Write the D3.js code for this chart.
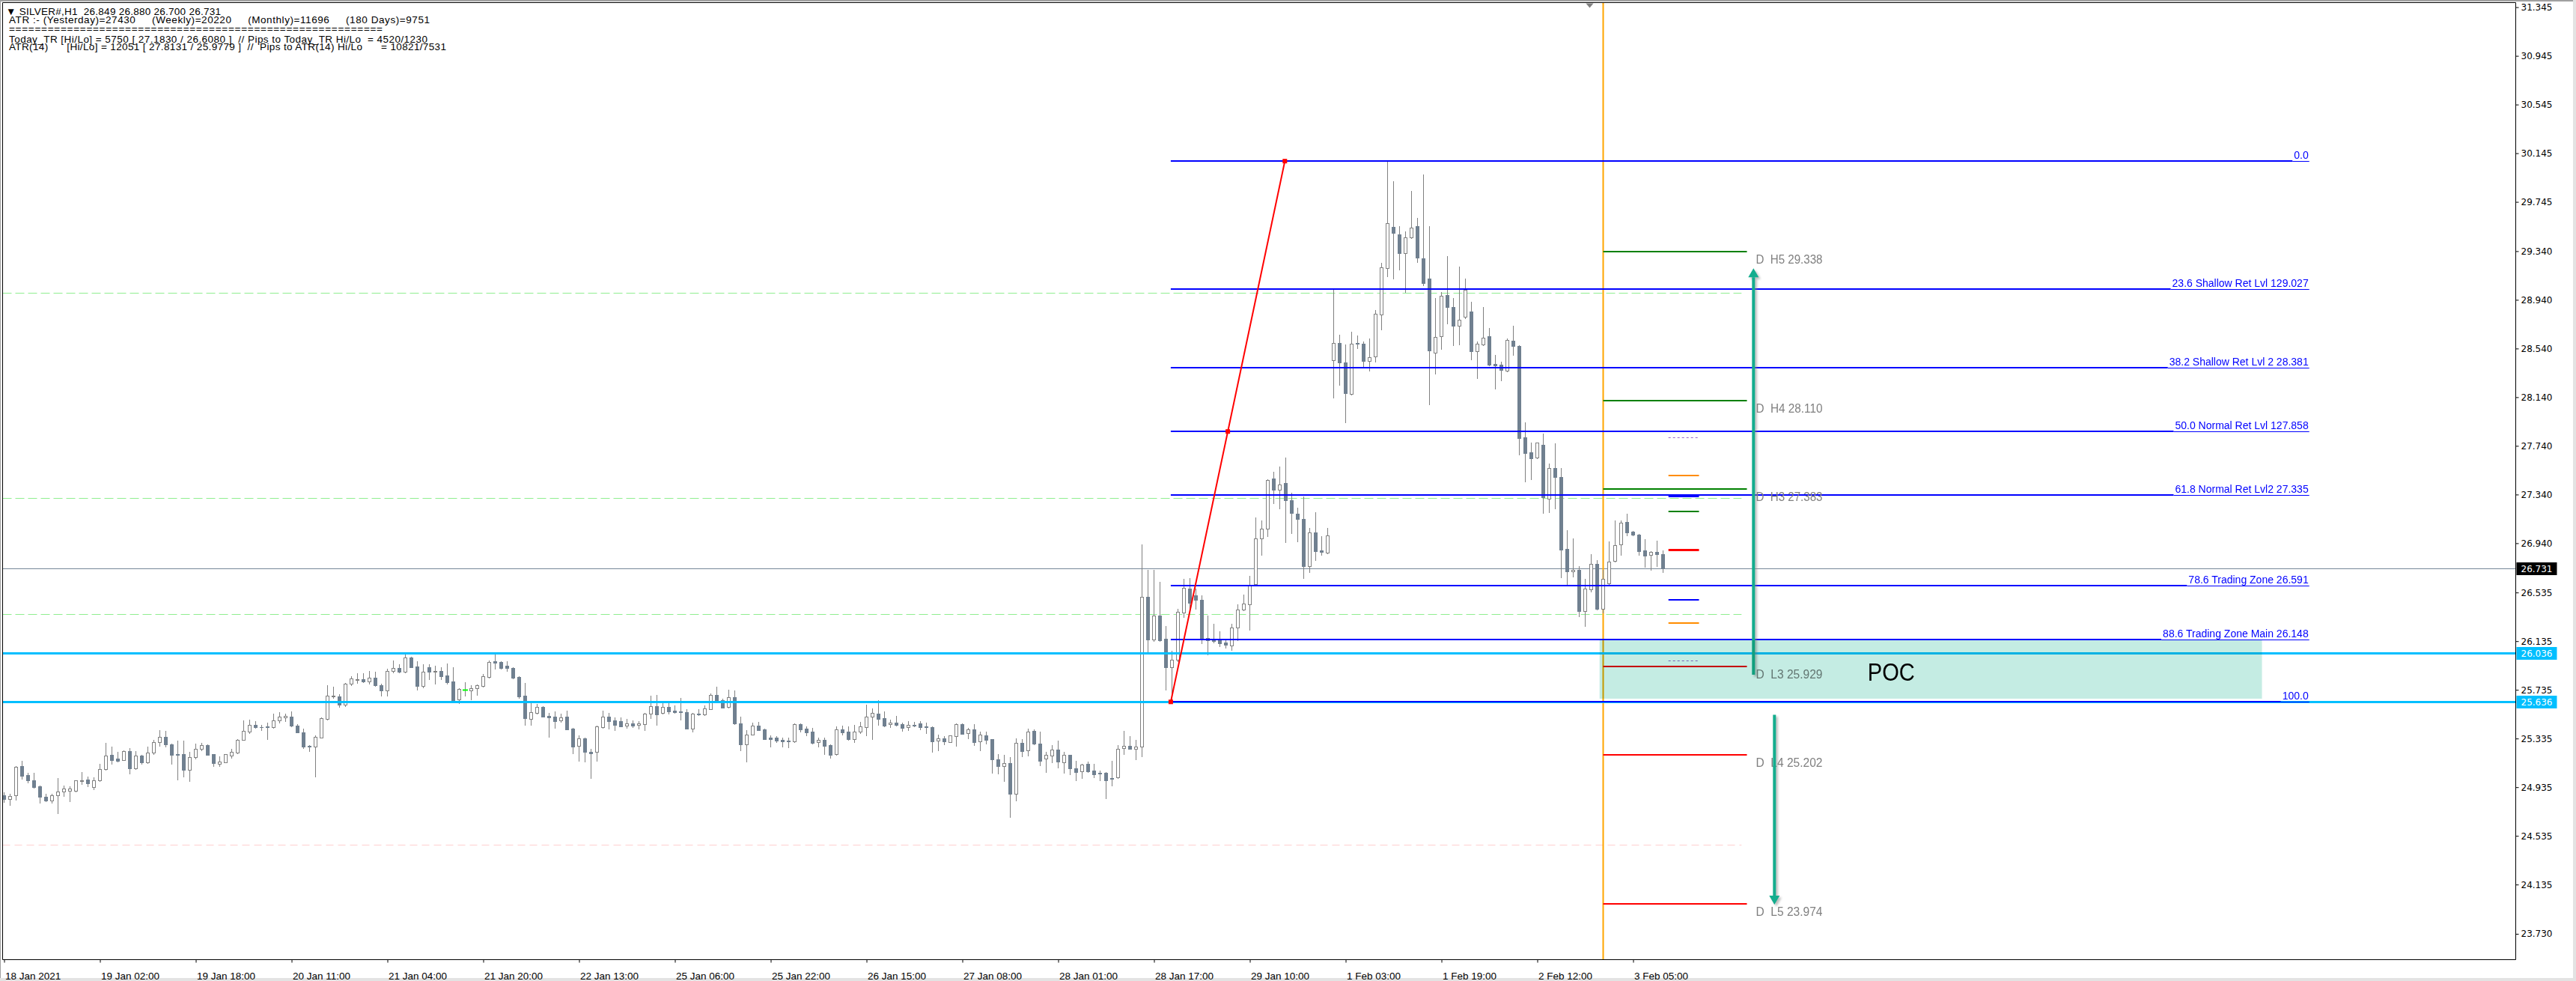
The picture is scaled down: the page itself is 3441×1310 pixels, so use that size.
<!DOCTYPE html>
<html><head><meta charset="utf-8">
<script src="https://cdn.jsdelivr.net/npm/d3@7"></script>
<style>html,body{margin:0;padding:0;background:#fff;}svg{display:block}</style>
</head><body>
<svg id="c" width="3441" height="1310"></svg>
<script>
// ---------------- DATA ----------------
const priceTicks = ["31.345","30.945","30.545","30.145","29.745","29.340","28.940","28.540","28.140","27.740","27.340","26.940","26.535","26.135","25.735","25.335","24.935","24.535","24.135","23.730"];
const timeLabels = ["18 Jan 2021","19 Jan 02:00","19 Jan 18:00","20 Jan 11:00","21 Jan 04:00","21 Jan 20:00","22 Jan 13:00","25 Jan 06:00","25 Jan 22:00","26 Jan 15:00","27 Jan 08:00","28 Jan 01:00","28 Jan 17:00","29 Jan 10:00","1 Feb 03:00","1 Feb 19:00","2 Feb 12:00","3 Feb 05:00"];
const opens = [24.867,24.840,24.867,25.107,25.033,24.992,24.943,24.854,24.828,24.867,24.898,24.908,24.908,24.988,24.998,24.935,24.990,25.086,25.201,25.168,
25.160,25.230,25.093,25.193,25.138,25.218,25.306,25.347,25.287,25.205,25.205,25.080,25.183,25.248,25.279,25.207,25.125,25.142,25.197,25.220,
25.326,25.394,25.447,25.431,25.435,25.431,25.482,25.511,25.515,25.443,25.388,25.277,25.269,25.345,25.495,25.679,25.681,25.611,25.784,25.819,
25.823,25.804,25.835,25.773,25.732,25.892,25.913,25.884,26.001,25.925,25.769,25.919,25.882,25.888,25.851,25.802,25.654,25.739,25.732,25.747,
25.765,25.843,25.970,25.964,25.933,25.915,25.841,25.687,25.494,25.548,25.595,25.521,25.515,25.482,25.515,25.417,25.275,25.337,25.226,25.224,
25.427,25.515,25.484,25.480,25.441,25.462,25.445,25.456,25.538,25.599,25.544,25.593,25.564,25.560,25.552,25.419,25.540,25.531,25.579,25.693,
25.650,25.595,25.675,25.458,25.287,25.367,25.439,25.408,25.343,25.343,25.324,25.318,25.312,25.451,25.417,25.390,25.304,25.324,25.281,25.209,
25.408,25.392,25.328,25.394,25.431,25.517,25.540,25.503,25.452,25.464,25.452,25.427,25.447,25.460,25.435,25.429,25.316,25.335,25.308,25.353,
25.454,25.378,25.408,25.310,25.361,25.330,25.164,25.111,25.134,24.883,25.300,25.236,25.396,25.294,25.168,25.193,25.242,25.142,25.201,25.091,
25.064,25.125,25.070,25.052,25.052,25.009,25.015,25.255,25.273,25.248,25.267,26.500,26.151,26.347,26.157,25.920,25.984,26.372,26.567,26.511,
26.476,26.160,26.148,26.145,26.122,26.097,26.246,26.397,26.435,26.602,26.978,27.057,27.470,27.378,27.432,27.296,27.183,27.142,26.754,27.028,
26.880,26.861,28.445,28.584,28.423,28.164,28.584,28.581,28.439,28.474,28.818,29.200,29.537,29.480,29.323,29.452,29.547,29.282,29.114,28.505,
28.641,28.979,28.878,28.726,28.799,28.843,28.518,28.571,28.638,28.411,28.407,28.357,28.603,28.559,27.808,27.685,27.647,27.748,27.306,27.555,
27.486,26.893,26.709,26.719,26.381,26.561,26.773,26.403,26.608,26.795,26.933,27.113,27.034,27.012,26.880,26.845,26.867,26.849];
const highs = [24.892,24.881,25.107,25.154,25.056,25.056,24.947,24.881,24.881,25.010,24.947,24.943,24.994,25.060,25.025,25.015,25.127,25.298,25.269,25.226,
25.240,25.257,25.230,25.201,25.271,25.326,25.402,25.398,25.291,25.320,25.320,25.224,25.291,25.302,25.289,25.209,25.189,25.209,25.250,25.332,
25.484,25.488,25.476,25.445,25.468,25.538,25.554,25.538,25.558,25.456,25.414,25.283,25.361,25.509,25.773,25.763,25.698,25.792,25.845,25.870,
25.872,25.890,25.886,25.786,25.907,25.977,25.948,26.038,26.009,25.968,25.944,25.948,25.935,25.923,25.952,25.923,25.751,25.800,25.773,25.780,
25.866,25.978,26.030,25.968,25.968,25.921,25.845,25.794,25.630,25.620,25.599,25.548,25.558,25.538,25.566,25.425,25.361,25.343,25.250,25.439,
25.566,25.548,25.507,25.511,25.497,25.486,25.476,25.548,25.687,25.693,25.634,25.638,25.609,25.671,25.579,25.548,25.579,25.609,25.706,25.761,
25.661,25.736,25.730,25.513,25.404,25.466,25.472,25.414,25.363,25.353,25.343,25.343,25.460,25.460,25.435,25.421,25.343,25.343,25.285,25.435,
25.441,25.435,25.445,25.470,25.616,25.583,25.650,25.558,25.488,25.521,25.466,25.476,25.472,25.476,25.466,25.435,25.367,25.357,25.363,25.460,
25.460,25.423,25.454,25.394,25.394,25.333,25.210,25.201,25.185,25.337,25.328,25.417,25.410,25.392,25.226,25.281,25.318,25.224,25.203,25.154,
25.129,25.146,25.127,25.072,25.058,25.154,25.281,25.398,25.355,25.324,26.930,26.720,26.719,26.624,26.261,26.056,26.403,26.646,26.656,26.567,
26.514,26.347,26.277,26.214,26.141,26.277,26.435,26.520,26.672,27.154,27.129,27.464,27.524,27.571,27.647,27.356,27.230,27.325,27.066,27.192,
26.997,27.066,29.023,28.654,28.575,28.676,28.650,28.597,28.625,28.856,29.244,30.090,29.913,29.543,29.502,29.834,29.616,29.970,29.543,28.953,
29.007,29.301,28.953,29.212,29.117,28.922,28.597,28.884,28.707,28.486,28.429,28.622,28.729,28.565,27.934,27.767,27.770,27.842,27.596,27.760,
27.555,27.050,26.978,26.750,26.646,26.852,26.798,26.719,26.952,27.129,27.129,27.183,27.041,27.019,26.971,26.877,26.958,26.880];
const lows = [24.816,24.789,24.830,25.004,24.973,24.933,24.810,24.820,24.810,24.721,24.861,24.820,24.902,24.963,24.943,24.916,24.984,25.076,25.127,25.148,
25.158,25.045,25.086,25.127,25.131,25.209,25.277,25.271,25.127,25.000,25.025,24.988,25.172,25.240,25.199,25.107,25.111,25.138,25.179,25.216,
25.322,25.380,25.421,25.402,25.332,25.425,25.466,25.480,25.435,25.384,25.254,25.230,25.025,25.343,25.490,25.669,25.593,25.599,25.773,25.792,
25.796,25.784,25.767,25.685,25.685,25.876,25.876,25.880,25.919,25.734,25.755,25.825,25.788,25.825,25.788,25.644,25.624,25.690,25.657,25.695,
25.763,25.835,25.907,25.907,25.890,25.829,25.671,25.445,25.445,25.538,25.513,25.349,25.425,25.472,25.410,25.216,25.154,25.144,25.013,25.154,
25.425,25.414,25.404,25.435,25.425,25.431,25.414,25.406,25.505,25.445,25.538,25.542,25.548,25.490,25.414,25.390,25.527,25.527,25.575,25.640,
25.589,25.590,25.456,25.240,25.148,25.365,25.402,25.328,25.271,25.306,25.271,25.261,25.308,25.394,25.363,25.291,25.271,25.209,25.177,25.199,
25.367,25.322,25.308,25.378,25.363,25.333,25.449,25.435,25.431,25.443,25.398,25.406,25.437,25.410,25.380,25.228,25.240,25.290,25.304,25.277,
25.374,25.339,25.283,25.240,25.296,25.056,25.050,24.988,24.687,24.828,25.191,25.197,25.287,25.117,25.062,25.142,25.099,25.056,25.043,24.994,
25.013,25.060,25.015,24.994,24.846,24.951,25.010,25.210,25.248,25.166,25.191,26.050,26.135,26.135,25.734,25.636,25.968,26.334,26.403,26.403,
26.119,26.025,26.126,26.094,26.078,26.062,26.141,26.388,26.230,26.593,26.845,26.997,27.271,27.224,26.946,27.025,26.952,26.656,26.703,26.798,
26.845,26.858,28.139,28.240,27.931,28.158,28.543,28.392,28.360,28.429,28.698,29.136,29.117,29.187,29.004,29.446,29.253,29.061,28.082,28.335,
28.534,28.745,28.565,28.575,28.789,28.448,28.297,28.568,28.398,28.212,28.275,28.351,28.486,27.666,27.445,27.467,27.640,27.186,27.192,27.224,
26.662,26.593,26.668,26.340,26.261,26.545,26.397,26.372,26.593,26.788,26.845,27.003,27.003,26.845,26.744,26.719,26.750,26.700];
const closes = [24.840,24.861,25.103,25.029,24.994,24.937,24.859,24.826,24.867,24.898,24.922,24.924,24.990,24.992,24.969,24.994,25.086,25.193,25.160,25.154,
25.230,25.093,25.193,25.142,25.218,25.304,25.347,25.285,25.201,25.201,25.080,25.181,25.248,25.279,25.203,25.131,25.144,25.205,25.224,25.324,
25.396,25.447,25.427,25.427,25.427,25.484,25.517,25.521,25.441,25.388,25.271,25.267,25.347,25.503,25.685,25.689,25.611,25.786,25.827,25.823,
25.806,25.833,25.771,25.732,25.890,25.915,25.882,26.001,25.923,25.769,25.886,25.882,25.890,25.849,25.796,25.652,25.743,25.739,25.747,25.771,
25.847,25.964,25.960,25.913,25.913,25.837,25.681,25.505,25.552,25.595,25.517,25.511,25.480,25.511,25.412,25.267,25.337,25.226,25.216,25.435,
25.515,25.480,25.445,25.437,25.460,25.439,25.460,25.538,25.601,25.536,25.593,25.558,25.554,25.550,25.417,25.540,25.531,25.581,25.691,25.648,
25.591,25.675,25.462,25.287,25.369,25.439,25.406,25.332,25.330,25.316,25.312,25.310,25.451,25.410,25.388,25.302,25.322,25.277,25.203,25.408,
25.388,25.328,25.394,25.435,25.513,25.544,25.499,25.441,25.464,25.449,25.425,25.445,25.439,25.431,25.427,25.314,25.335,25.314,25.359,25.454,
25.376,25.408,25.308,25.365,25.326,25.166,25.111,25.132,24.883,25.298,25.234,25.390,25.294,25.154,25.199,25.242,25.148,25.201,25.093,25.062,
25.121,25.068,25.043,25.045,24.994,25.002,25.248,25.273,25.253,25.267,26.500,26.150,26.347,26.145,25.920,25.984,26.378,26.574,26.451,26.473,
26.157,26.145,26.135,26.119,26.107,26.246,26.397,26.444,26.593,26.978,27.057,27.457,27.378,27.423,27.293,27.186,27.139,26.750,27.028,26.877,
26.867,27.003,28.584,28.423,28.171,28.578,28.578,28.436,28.471,28.827,29.209,29.569,29.490,29.323,29.452,29.531,29.285,29.080,28.524,28.635,
28.975,28.878,28.726,28.777,29.023,28.518,28.578,28.631,28.404,28.401,28.363,28.609,28.559,27.801,27.678,27.637,27.764,27.319,27.558,27.486,
26.886,26.709,26.719,26.381,26.567,26.773,26.403,26.649,26.791,26.927,27.110,27.031,27.012,26.877,26.839,26.867,26.848,26.731];

const fibLevels = [30.080, 29.027, 28.381, 27.858, 27.335, 26.591, 26.148, 25.636];
const fibTexts = ["0.0","23.6 Shallow Ret Lvl 129.027","38.2 Shallow Ret Lvl 2 28.381","50.0 Normal Ret Lvl 127.858","61.8 Normal Ret Lvl2 27.335","78.6 Trading Zone 26.591","88.6 Trading Zone Main 26.148","100.0"];
const pivotNames = ["H5","H4","H3","L3","L4","L5"];
const pivotValues = [29.338, 28.110, 27.383, 25.929, 25.202, 23.974];
const currentPrice = 26.731;
const zoneLines = [26.036, 25.636];
const greenDashLevels = [28.997, 27.309, 26.357];
const pinkDashLevels = [24.462];
const atr14Levels = [27.8131, 25.9779];
const orangeLevels = [27.498, 26.286];
const blueLevels = [27.330, 26.473];
const greenLevels = [27.199];
const redLevels = [26.889];
const pocZone = [26.148, 25.660];
const upMove = [25.86, 29.20];
const downMove = [25.53, 23.97];
const fibLow = 25.636, fibHigh = 30.080;
const headerLines = [
  "\u25BC SILVER#,H1  26.849 26.880 26.700 26.731",
  "ATR :- (Yesterday)=27430     (Weekly)=20220     (Monthly)=11696     (180 Days)=9751",
  "==========================================================",
  "Today_TR [Hi/Lo] = 5750 [ 27.1830 / 26.6080 ]  // Pips to Today_TR Hi/Lo  = 4520/1230",
  "ATR(14)      [Hi/Lo] = 12051 [ 27.8131 / 25.9779 ]  //  Pips to ATR(14) Hi/Lo      = 10821/7531"
];

// anchor times in bar units
const fibStartBar = 194.8, fibTrendEndBar = 213.85, fibEndBar = 384.9;
const todayBar = 267, pivotEndBar = 291, labelBar = 292.5;
const shortStartBar = 277.9, shortEndBar = 283, dashEndBar = 290.1;
const upArrowBar = 292.1, downArrowBar = 295.6;
const pocStartBar = 266.4, pocEndBar = 377, pocTextBar = 315.1, pocTextPrice = 25.886;
const shiftBar = 264.75;

// ---------------- LAYOUT ----------------
const L = 3.5, R = 3360.5, T = 3.5, B = 1281.5;
const svg = d3.select('#c');
const x = d3.scaleLinear().domain([0, 1]).range([5.5, 13.5]);
const y = d3.scaleLinear().domain([23.730, 31.345]).range([1247.0, 9.6]);
const ry = v => Math.round(y(v));
const FONT = "'Liberation Sans', Arial, sans-serif";

svg.append('rect').attr('width', 3441).attr('height', 1310).attr('fill', '#fff');
svg.append('defs').append('clipPath').attr('id', 'clip')
  .append('rect').attr('x', L).attr('y', T).attr('width', R - L).attr('height', B - T);
svg.select('defs').append('filter').attr('id', 'sh').attr('x', '-50%').attr('y', '-5%').attr('width', '200%').attr('height', '110%')
  .append('feGaussianBlur').attr('stdDeviation', 1.5);

const plot = svg.append('g').attr('clip-path', 'url(#clip)');

// dashed level lines
const hl = (g, v, x1, x2, color, w, dash) => {
  const yy = (w % 2 === 1) ? ry(v) + 0.5 : ry(v);
  const ln = g.append('line').attr('x1', x1).attr('x2', x2).attr('y1', yy).attr('y2', yy)
    .attr('stroke', color).attr('stroke-width', w);
  if (dash) ln.attr('stroke-dasharray', dash);
  return ln;
};
greenDashLevels.forEach(v => hl(plot, v, L, x(dashEndBar), '#90EE90', 1, '12,5'));
pinkDashLevels.forEach(v => hl(plot, v, L, x(dashEndBar), '#FFCFCF', 1, '10,6'));

// current price line
hl(plot, currentPrice, L, R, '#778899', 1);

// today separator
plot.append('line').attr('x1', x(todayBar)).attr('x2', x(todayBar)).attr('y1', T).attr('y2', B)
  .attr('stroke', '#FFA500').attr('stroke-width', 2);

// candles
const idx = d3.range(opens.length);
plot.append('g').selectAll('line').data(idx).join('line')
  .attr('x1', i => x(i)).attr('x2', i => x(i))
  .attr('y1', i => ry(highs[i])).attr('y2', i => ry(lows[i]) + 1)
  .attr('stroke', '#808080').attr('stroke-width', 1);
const bodies = plot.append('g');
idx.forEach(i => {
  const o = opens[i], c = closes[i];
  if (o === c) {
    bodies.append('line').attr('x1', x(i) - 3.5).attr('x2', x(i) + 3.5)
      .attr('y1', ry(o) + 0.5).attr('y2', ry(o) + 0.5).attr('stroke', '#00FF00').attr('stroke-width', 2);
  } else if (c > o) {
    const top = ry(c), bot = ry(o);
    bodies.append('rect').attr('x', x(i) - 2).attr('y', top + 0.5).attr('width', 4)
      .attr('height', Math.max(1, bot - top)).attr('fill', '#fff').attr('stroke', '#808080').attr('stroke-width', 1);
  } else {
    const top = ry(o), bot = ry(c);
    bodies.append('rect').attr('x', x(i) - 2.5).attr('y', top).attr('width', 5)
      .attr('height', Math.max(1, bot - top + 1)).attr('fill', '#708090');
  }
});

// zone (cyan) lines
zoneLines.forEach(v => hl(plot, v, L, R, '#00BFFF', 3));

// fib retracement lines + labels
const fibG = plot.append('g').attr('font-family', FONT).attr('font-size', 14).attr('fill', '#0000FF');
const fxEnd = x(fibEndBar);
fibLevels.forEach((v, k) => {
  const yy = ry(v);
  const t = fibG.append('text').attr('x', fxEnd - 1).attr('y', yy - 3).attr('text-anchor', 'end').text(fibTexts[k]);
  const w = t.node().getComputedTextLength();
  const xs = fxEnd - 1 - w - 2;
  fibG.append('line').attr('x1', x(fibStartBar)).attr('x2', xs).attr('y1', yy).attr('y2', yy)
    .attr('stroke', '#0000FF').attr('stroke-width', 2);
  fibG.append('line').attr('x1', xs).attr('x2', fxEnd).attr('y1', yy + 0.5).attr('y2', yy + 0.5)
    .attr('stroke', '#0000FF').attr('stroke-width', 1);
});

// red trend line of the fib
const tl = plot.append('g');
tl.append('line').attr('x1', x(fibStartBar)).attr('y1', y(fibLow)).attr('x2', x(fibTrendEndBar)).attr('y2', y(fibHigh))
  .attr('stroke', '#FF0000').attr('stroke-width', 2);
[[fibStartBar, fibLow], [(fibStartBar + fibTrendEndBar) / 2, (fibLow + fibHigh) / 2], [fibTrendEndBar, fibHigh]].forEach(p => {
  tl.append('rect').attr('x', x(p[0]) - 3).attr('y', y(p[1]) - 3).attr('width', 6).attr('height', 6).attr('fill', '#FF0000');
});

// daily pivot style levels
const pv = plot.append('g');
pivotValues.forEach((v, k) => {
  const col = pivotNames[k][0] === 'H' ? '#008000' : '#FF0000';
  hl(pv, v, x(todayBar), x(pivotEndBar), col, 2);
  pv.append('text').attr('x', x(labelBar)).attr('y', ry(v) + 16)
    .attr('font-family', FONT).attr('font-size', 16).attr('fill', '#808080')
    .attr('textLength', 89).attr('lengthAdjust', 'spacingAndGlyphs')
    .style('white-space', 'pre').text('D  ' + pivotNames[k] + ' ' + v.toFixed(3));
});

// short level marks
const sx1 = x(shortStartBar), sx2 = x(shortEndBar);
atr14Levels.forEach(v => hl(pv, v, sx1, sx2, '#9966CC', 1, '3,3'));
orangeLevels.forEach(v => hl(pv, v, sx1, sx2, '#FF8C00', 2));
blueLevels.forEach((v, k) => hl(pv, v, sx1, sx2, '#0000FF', k === 0 ? 3 : 2));
greenLevels.forEach(v => hl(pv, v, sx1, sx2, '#008000', 2));
redLevels.forEach(v => hl(pv, v, sx1, sx2, '#FF0000', 3));

// arrows
const arrow = (g, bx, from, to) => {
  const xx = x(bx), y0 = y(from), y1 = y(to);
  const dir = y1 < y0 ? 1 : -1;
  const headL = 12, headW = 7;
  const drawOne = (gg, dx, dy, col, filt) => {
    const a = gg.append('g').attr('transform', `translate(${dx},${dy})`);
    if (filt) a.attr('filter', 'url(#sh)').attr('opacity', 0.55);
    a.append('line').attr('x1', xx).attr('x2', xx).attr('y1', y0).attr('y2', y1 + dir * headL)
      .attr('stroke', col).attr('stroke-width', 4);
    a.append('path').attr('d', `M${xx},${y1} L${xx - headW},${y1 + dir * headL} L${xx + headW},${y1 + dir * headL} Z`).attr('fill', col);
  };
  drawOne(g, 2.5, 2.5, '#888', true);
  drawOne(g, 0, 0, '#14AD8E', false);
};
arrow(plot, upArrowBar, upMove[0], upMove[1]);
arrow(plot, downArrowBar, downMove[0], downMove[1]);

// POC zone
plot.append('rect').attr('x', x(pocStartBar)).attr('y', ry(pocZone[0]) + 1)
  .attr('width', x(pocEndBar) - x(pocStartBar)).attr('height', ry(pocZone[1]) - ry(pocZone[0]) - 1)
  .attr('fill', '#C4ECE3').style('mix-blend-mode', 'multiply');
plot.append('text').attr('x', x(pocTextBar)).attr('y', y(pocTextPrice) + 12).attr('text-anchor', 'middle')
  .attr('font-family', FONT).attr('font-size', 34).attr('fill', '#000')
  .attr('textLength', 63).attr('lengthAdjust', 'spacingAndGlyphs').text('POC');

// chart shift marker
svg.append('path').attr('d', `M${x(shiftBar) - 5},${T + 1} L${x(shiftBar) + 5},${T + 1} L${x(shiftBar)},${T + 7} Z`).attr('fill', '#808080');

// ---------------- AXES ----------------
// window borders
svg.append('rect').attr('x', 0).attr('y', 0).attr('width', 3441).attr('height', 2).attr('fill', '#A0A0A0');
svg.append('rect').attr('x', 3437).attr('y', 0).attr('width', 4).attr('height', 1310).attr('fill', '#E3E3E3');
svg.append('rect').attr('x', 0).attr('y', 1306).attr('width', 3441).attr('height', 4).attr('fill', '#E3E3E3');
svg.append('line').attr('x1', 0.5).attr('x2', 0.5).attr('y1', 0).attr('y2', 1306).attr('stroke', '#A0A0A0');
// frame
svg.append('path').attr('d', `M${L},${B} L${L},${T} L${R},${T} L${R},${B} L${L},${B}`)
  .attr('fill', 'none').attr('stroke', '#000').attr('stroke-width', 1);

const yAxis = d3.axisRight(y).tickValues(priceTicks.map(Number)).tickSize(4)
  .tickFormat((d, i) => priceTicks[i]);
const ya = svg.append('g').attr('transform', `translate(${R},0)`).call(yAxis);
ya.select('.domain').remove();
ya.selectAll('.tick line').attr('stroke', '#000');
ya.selectAll('.tick text').attr('x', 7).attr('font-family', "'DejaVu Sans', Verdana, sans-serif").attr('font-size', 12).attr('fill', '#000');

const xAxis = d3.axisBottom(x).tickValues(timeLabels.map((d, i) => i * 16)).tickSize(4)
  .tickFormat((d, i) => timeLabels[i]);
const xa = svg.append('g').attr('transform', `translate(0,${B})`).call(xAxis);
xa.select('.domain').remove();
xa.selectAll('.tick line').attr('stroke', '#000');
xa.selectAll('.tick text').attr('text-anchor', 'start').attr('x', 1).attr('y', 17)
  .attr('font-family', FONT).attr('font-size', 13.5).attr('fill', '#000');

// price labels on axis
const priceBox = (v, bg) => {
  const yy = y(v);
  svg.append('rect').attr('x', R + 1).attr('y', Math.round(yy) - 8).attr('width', 54).attr('height', 17).attr('fill', bg);
  svg.append('text').attr('x', R + 7).attr('y', Math.round(yy) + 5)
    .attr('font-family', "'DejaVu Sans', Verdana, sans-serif").attr('font-size', 12).attr('fill', '#fff').text(v.toFixed(3));
};
priceBox(currentPrice, '#000');
zoneLines.forEach(v => priceBox(v, '#00BFFF'));

// header text
const hdrX = [8, 12, 12, 12, 12], hdrY = [20, 31, 43, 57, 67], hdrW = [287, 562, 499, 559, 584];
headerLines.forEach((s, k) => {
  svg.append('text').attr('x', hdrX[k]).attr('y', hdrY[k])
    .attr('font-family', FONT).attr('font-size', 13.5).attr('fill', '#000')
    .attr('textLength', hdrW[k]).attr('lengthAdjust', 'spacing')
    .style('white-space', 'pre').text(s);
});
</script>
</body></html>
